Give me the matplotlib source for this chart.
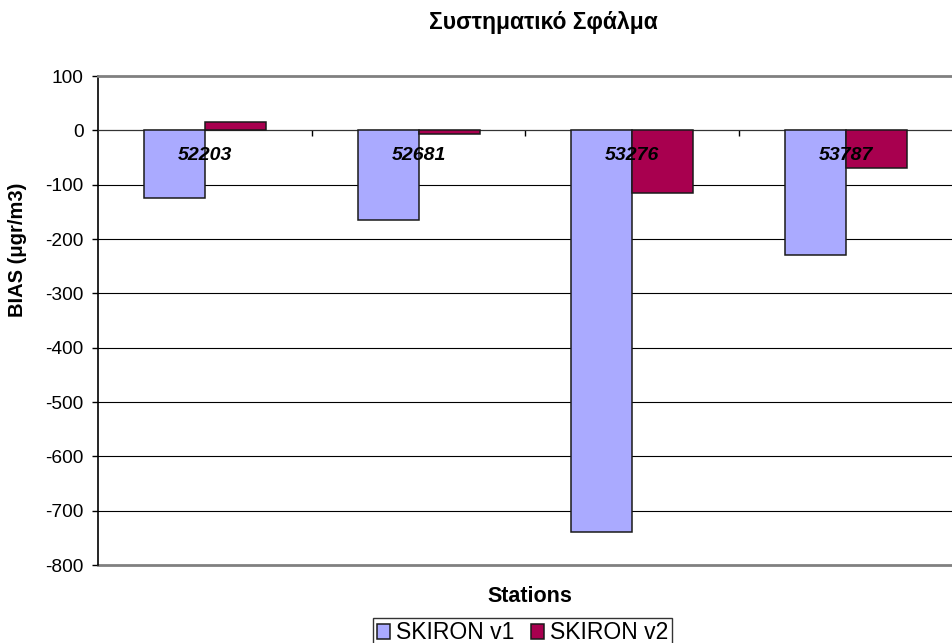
import matplotlib
matplotlib.use("Agg")
import matplotlib.pyplot as plt
import numpy as np

plt.rcParams['font.family'] = ['Liberation Sans', 'DejaVu Sans']

# BIAS per station for the two model versions
stations = ['52203', '52681', '53276', '53787']
skiron_v1 = [-125, -165, -740, -230]
skiron_v2 = [16, -7, -115, -70]
yticks = list(range(-800, 101, 100))

W, H = 953, 643
fig = plt.figure(figsize=(W / 100, H / 100), dpi=100)
ax = fig.add_axes([98 / W, 1 - 565 / H, 855 / W, 489 / H])

x = np.arange(len(stations))
w = 1 / 3.5
ax.bar(x - w / 2, skiron_v1, w, color='#AAAAFF', edgecolor='#1a1a1a',
       linewidth=1.1, label='SKIRON v1', zorder=3)
ax.bar(x + w / 2, skiron_v2, w, color='#A8004F', edgecolor='#1a1a1a',
       linewidth=1.1, label='SKIRON v2', zorder=3)

# station names sit just under the zero line
for i, s in enumerate(stations):
    ax.text(i, -47, s, ha='center', va='center', fontsize=14,
            fontweight='bold', fontstyle='italic', zorder=4)

ax.set_xlim(-0.5, len(stations) - 0.5)
ax.set_ylim(-800, 100)
ax.set_yticks(yticks)
ax.set_yticklabels([str(v) for v in yticks], fontsize=13.8)
ax.tick_params(axis='y', direction='out', length=4.5, width=1, pad=6)
for v in yticks[1:-1]:
    ax.axhline(v, color='black', linewidth=0.8, zorder=1)

# category axis runs along zero with ticks between the groups
ax.spines['bottom'].set_position(('data', 0))
ax.spines['bottom'].set_color('#333333')
ax.set_xticks(np.arange(0.5, len(stations) - 1, 1.0))
ax.set_xticklabels([])
ax.tick_params(axis='x', direction='out', length=4, width=1)
ax.spines['left'].set_linewidth(1.2)
ax.spines['right'].set_visible(False)
ax.spines['top'].set_color('#808080')
ax.spines['top'].set_linewidth(2)
ax.axhline(-800, color='#808080', linewidth=2, zorder=2, clip_on=False)

fig.text(543 / W, 1 - 22 / H, 'Συστηματικό Σφάλμα', ha='center',
         va='center', fontsize=16.5, fontweight='bold')
fig.text(18 / W, 1 - 250 / H, 'BIAS (μgr/m3)', ha='center', va='center',
         rotation=90, fontsize=14.5, fontweight='bold')
fig.text(530 / W, 1 - 597 / H, 'Stations', ha='center', va='center',
         fontsize=15.5, fontweight='bold')

leg = fig.legend(loc='upper center', bbox_to_anchor=(522.5 / W, 1 - 618 / H),
                 ncol=2, fontsize=16.5, frameon=True, fancybox=False,
                 edgecolor='black', handlelength=0.6, handleheight=0.6,
                 handletextpad=0.25, columnspacing=0.7, borderpad=0.15,
                 borderaxespad=0)
leg.get_frame().set_linewidth(1)

fig.savefig('out.png', dpi=100)
